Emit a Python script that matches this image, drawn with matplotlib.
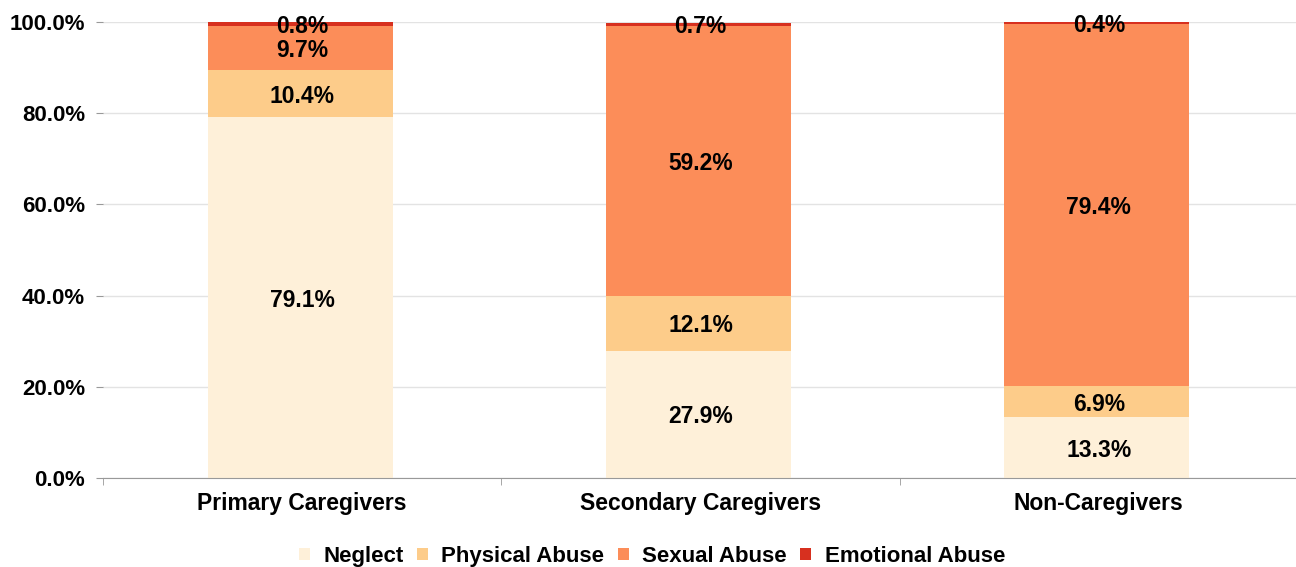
import matplotlib.pyplot as plt
import numpy as np

plt.rcParams['font.family'] = ['Liberation Sans', 'DejaVu Sans']

categories = ['Primary Caregivers', 'Secondary Caregivers', 'Non-Caregivers']
series = ['Neglect', 'Physical Abuse', 'Sexual Abuse', 'Emotional Abuse']
neglect = [79.1, 27.9, 13.3]
physical = [10.4, 12.1, 6.9]
sexual = [9.7, 59.2, 79.4]
emotional = [0.8, 0.7, 0.4]
colors = ['#fef0d9', '#fdcc8a', '#fc8d59', '#d7301f']

fig = plt.figure(figsize=(12.96, 5.67), dpi=100)
ax = fig.add_axes([0.0795, 0.157, 0.922, 0.804])

x = np.arange(len(categories))
bottom = np.zeros(len(categories))
for name, vals, col in zip(series, [neglect, physical, sexual, emotional], colors):
    vals = np.array(vals)
    ax.bar(x - 0.005, vals, width=0.464, bottom=bottom, color=col, label=name, zorder=2)
    for xi, b, v in zip(x, bottom, vals):
        ax.text(xi, b + v / 2, f'{v:.1f}%', ha='center', va='center_baseline',
                fontsize=16.5, fontweight='bold', color='black', zorder=3)
    bottom += vals

ax.set_xlim(-0.5, 2.5)
ax.set_ylim(0, 100)
ax.set_yticks(np.arange(0, 101, 20))
ax.set_yticklabels([f'{v:.1f}%' for v in np.arange(0, 101, 20)],
                   fontsize=16, fontweight='bold')
ax.yaxis.grid(True, color='#e3e3e3', linewidth=1, zorder=0)
ax.tick_params(axis='y', length=5, color='#999999', pad=8)

ax.set_xticks(x)
ax.set_xticklabels(categories, fontsize=16.5, fontweight='bold')
ax.tick_params(axis='x', length=0, pad=10)
ax.set_xticks([-0.5, 0.5, 1.5, 2.5], minor=True)
ax.tick_params(axis='x', which='minor', length=5, color='#999999')

for s in ['left', 'right', 'top']:
    ax.spines[s].set_visible(False)
ax.spines['bottom'].set_color('#999999')
ax.spines['bottom'].set_zorder(4)

leg = fig.legend(loc='lower center', bbox_to_anchor=(0.503, -0.035), ncol=4,
                 frameon=False, handlelength=0.5, handleheight=0.5,
                 handletextpad=0.6, columnspacing=0.6,
                 prop={'size': 16, 'weight': 'bold'})

fig.savefig('out.png', dpi=100)
